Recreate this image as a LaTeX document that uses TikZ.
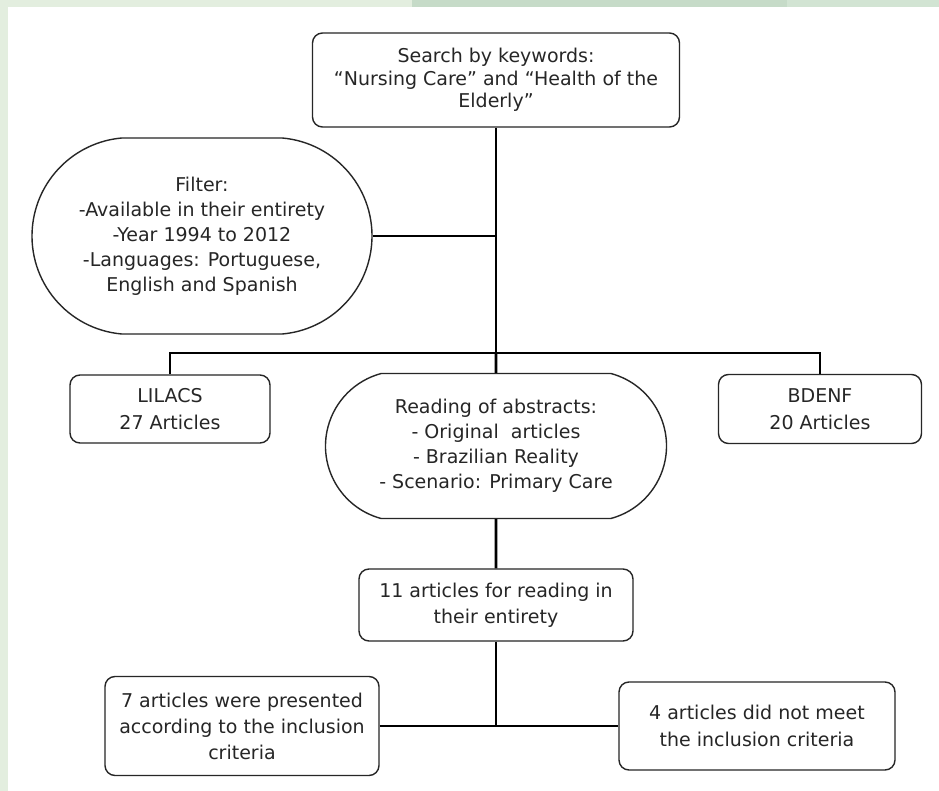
\documentclass[tikz,border=0pt]{standalone}
\usepackage{fontspec}
\setmainfont{DejaVu Sans}
\usetikzlibrary{shapes.misc}

\definecolor{edgegreen}{HTML}{E3EEDF}
\definecolor{bandgreen}{HTML}{C6DBC8}
\definecolor{bandlight}{HTML}{D2E4D3}
\definecolor{inkgray}{HTML}{262626}

\begin{document}
\begin{tikzpicture}[x=1pt, y=-1pt]
  \def\borderwidth{1.4pt}
  \def\linkwidth{2.8pt}
  \tikzstyle{box} = [rectangle, rounded corners=10pt, draw=inkgray, line width=\borderwidth, fill=white, align=center, inner sep=0pt, text=inkgray, font=\fontsize{19}{24}\selectfont]
  \tikzstyle{oval} = [rounded rectangle, draw=inkgray, line width=\borderwidth, fill=white, align=center, inner sep=0pt, text=inkgray, font=\fontsize{19}{25}\selectfont]
  \tikzstyle{link} = [line width=\linkwidth, black]

  % page and the green bands
  \fill[white] (0,0) rectangle (939,791);
  \fill[edgegreen] (0,0) rectangle (8,791);
  \fill[edgegreen] (0,0) rectangle (412,7);
  \fill[bandgreen] (412,0) rectangle (787,7);
  \fill[bandlight] (787,0) rectangle (939,7);
  \useasboundingbox (0,0) rectangle (939,791);

  \node[box, minimum width=367pt, minimum height=94pt, font=\fontsize{19}{22.5}\selectfont] (search) at (496, 80)
    {Search by keywords:\\“Nursing Care” and “Health of the\\Elderly”};
  \node[oval, rounded rectangle arc length=170, minimum width=340pt, minimum height=196pt] (filter) at (202, 236)
    {Filter:\\-Available in their entirety\\-Year 1994 to 2012\\-Languages: Portuguese,\\English and Spanish};

  \node[box, minimum width=200pt, minimum height=68pt, font=\fontsize{19}{27}\selectfont] (lilacs) at (170, 409) {LILACS\\27 Articles};
  \node[box, minimum width=203pt, minimum height=69pt, font=\fontsize{19}{27}\selectfont] (bdenf) at (820, 409) {BDENF\\20 Articles};
  \node[oval, rounded rectangle arc length=150, minimum width=341pt, minimum height=145pt] (reading) at (496, 446)
    {Reading of abstracts:\\- Original\ \ articles\\- Brazilian Reality\\- Scenario: Primary Care};

  \node[box, minimum width=274pt, minimum height=72pt, font=\fontsize{19}{26}\selectfont] (eleven) at (496, 605) {11 articles for reading in\\their entirety};
  \node[box, minimum width=274pt, minimum height=99pt, font=\fontsize{19}{26}\selectfont] (seven) at (242, 726)
    {7 articles were presented\\according to the inclusion\\criteria};
  \node[box, minimum width=276pt, minimum height=88pt, font=\fontsize{19}{27}\selectfont] (four) at (757, 726)
    {4 articles did not meet\\the inclusion criteria};

  \coordinate (filterjoin) at (496, 236);
  \coordinate (hub) at (496, 353);
  \coordinate (split) at (496, 726);

  \draw[link] (search) -- (hub);
  \draw[link] (filter) -- (filterjoin);
  \draw[link] (lilacs) |- (hub) -| (bdenf);
  \draw[link] (hub) -- (reading);
  \draw[link] (reading) -- (eleven);
  \draw[link] (eleven) -- (split);
  \draw[link] (seven) -- (four);

\end{tikzpicture}
\end{document}
